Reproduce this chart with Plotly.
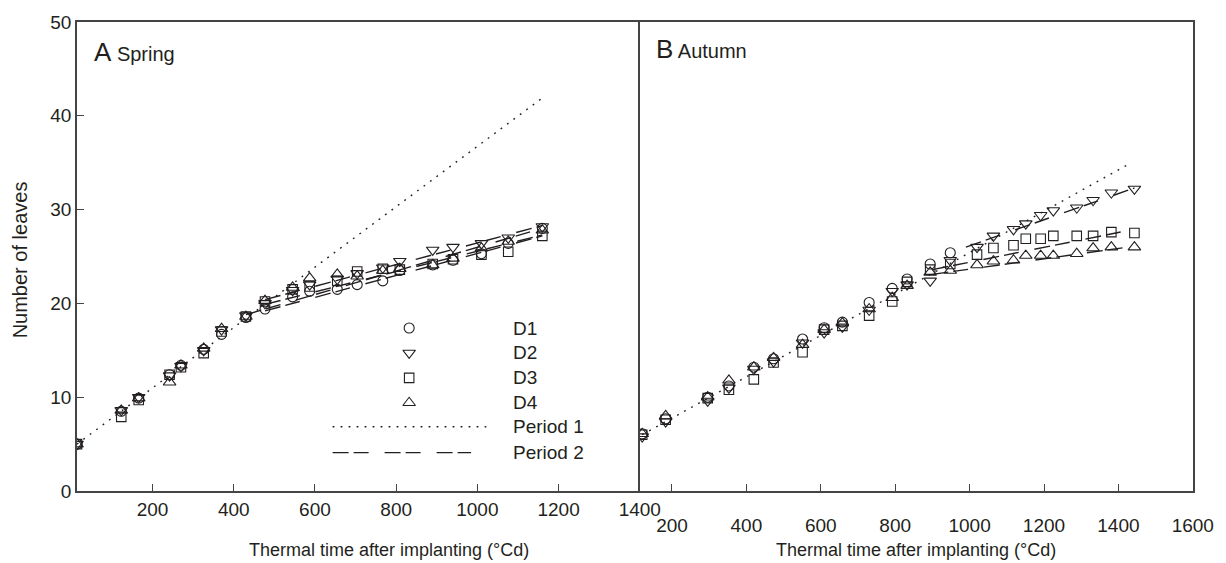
import plotly.graph_objects as go

# ---------------- data ----------------
# Spring (panel A)
spring_x = [14, 123, 166, 242, 270, 326, 370, 430, 477, 545, 587, 655, 704, 767, 809, 890, 940, 1010, 1076, 1160]
spring_d1 = [5.0, 8.5, 9.9, 12.4, 13.4, 15.1, 16.7, 18.5, 19.4, 20.7, 21.3, 21.5, 22.0, 22.4, 23.5, 24.1, 24.6, 25.3, 26.4, 28.0]
spring_d2 = [5.0, 8.6, 10.0, 12.3, 13.3, 15.0, 17.2, 18.7, 20.0, 21.4, 22.0, 22.6, 23.2, 23.8, 24.5, 25.7, 26.0, 26.4, 27.0, 28.2]
spring_d3 = [5.0, 7.9, 9.7, 12.4, 13.2, 14.7, 17.0, 18.6, 20.2, 21.5, 21.8, 22.4, 23.4, 23.7, 23.6, 24.2, 24.7, 25.2, 25.5, 27.2]
spring_d4 = [5.0, 8.6, 9.9, 11.6, 13.4, 15.2, 17.3, 18.6, 20.3, 21.7, 22.7, 23.1, 22.9, 23.5, 23.7, 24.1, 24.8, 25.9, 26.6, 27.8]

# Autumn (panel B)
autumn_x = [120, 183, 296, 353, 420, 473, 551, 609, 658, 730, 792, 832, 894, 948]
autumn_d1 = [6.1, 7.7, 10.0, 11.2, 13.2, 14.1, 16.2, 17.4, 18.0, 20.1, 21.6, 22.6, 24.2, 25.4]
autumn_x2 = [120, 183, 296, 353, 420, 473, 551, 609, 658, 730, 792, 832, 894, 948, 1020, 1064, 1118, 1151, 1191, 1225, 1288, 1332, 1381, 1443]
autumn_d2 = [5.8, 7.4, 9.6, 11.0, 13.0, 13.8, 15.8, 16.9, 17.5, 19.3, 21.3, 22.0, 22.4, 24.6, 26.0, 27.2, 27.9, 28.5, 29.4, 29.9, 30.2, 31.0, 31.8, 32.2]
autumn_d3 = [6.0, 7.6, 9.9, 10.8, 11.9, 13.7, 14.8, 17.2, 17.6, 18.7, 20.2, 22.3, 23.6, 24.2, 25.2, 25.9, 26.2, 26.9, 26.9, 27.2, 27.2, 27.2, 27.6, 27.5]
autumn_d4 = [6.1, 8.0, 10.0, 11.8, 13.2, 14.2, 15.6, 17.2, 17.9, 19.4, 20.6, 21.9, 23.3, 23.5, 24.1, 24.5, 24.6, 25.1, 25.1, 25.1, 25.3, 25.9, 26.0, 26.0]

# fitted lines (start/end)
spring_p1_x = [14, 1160]
spring_p1_y = [5.0, 41.9]
spring_p2_x = {"D1": [477, 1160], "D2": [477, 1160], "D3": [477, 1160], "D4": [430, 1160]}
spring_p2_y = {"D1": [19.2, 27.2], "D2": [20.4, 28.3], "D3": [19.9, 27.3], "D4": [18.8, 28.0]}

autumn_p1_x = [120, 1430]
autumn_p1_y = [6.0, 34.9]
autumn_p2_x = {"D2": [990, 1443], "D3": [900, 1443], "D4": [900, 1443]}
autumn_p2_y = {"D2": [26.0, 32.3], "D3": [23.6, 27.9], "D4": [23.1, 26.1]}

legend_labels = ["D1", "D2", "D3", "D4", "Period 1", "Period 2"]

# ---------------- style ----------------
INK = "#231f20"
AXC = "#444444"
FONT = "Liberation Sans, Arial, Helvetica, sans-serif"
SYMS = {"D1": ("circle-open", 10), "D2": ("triangle-down-open", 11),
        "D3": ("square-open", 9.5), "D4": ("triangle-up-open", 11)}
DOT = "1.8px,6.2px"
DASH = "16px,5px,15px,16px"

fig = go.Figure()

def add_line(xs, ys, dash, xa, ya):
    fig.add_trace(go.Scatter(x=xs, y=ys, mode="lines", xaxis=xa, yaxis=ya,
                             line=dict(color=INK, width=1.4, dash=dash),
                             showlegend=False, hoverinfo="skip"))

def add_pts(xs, ys, key, xa, ya):
    sym, sz = SYMS[key]
    fig.add_trace(go.Scatter(x=xs, y=ys, mode="markers", xaxis=xa, yaxis=ya,
                             marker=dict(symbol=sym, size=sz, color=INK,
                                         line=dict(color=INK, width=1.1)),
                             showlegend=False, name=key))

# Panel A
add_line(spring_p1_x, spring_p1_y, DOT, "x", "y")
for k in spring_p2_x:
    add_line(spring_p2_x[k], spring_p2_y[k], DASH, "x", "y")
for k, ys in zip(["D1", "D2", "D3", "D4"], [spring_d1, spring_d2, spring_d3, spring_d4]):
    add_pts(spring_x, ys, k, "x", "y")

# Panel B
add_line(autumn_p1_x, autumn_p1_y, DOT, "x2", "y2")
for k in autumn_p2_x:
    add_line(autumn_p2_x[k], autumn_p2_y[k], DASH, "x2", "y2")
add_pts(autumn_x, autumn_d1, "D1", "x2", "y2")
for k, ys in zip(["D2", "D3", "D4"], [autumn_d2, autumn_d3, autumn_d4]):
    add_pts(autumn_x2, ys, k, "x2", "y2")

# Legend built on a hidden axis pair over panel A
leg_mx = 0.590
leg_rows = [0.3475, 0.2944, 0.2412, 0.1881, 0.1371, 0.0818]
for i, k in enumerate(["D1", "D2", "D3", "D4"]):
    sym, sz = SYMS[k]
    fig.add_trace(go.Scatter(x=[leg_mx], y=[leg_rows[i]], mode="markers", xaxis="x3", yaxis="y3",
                             marker=dict(symbol=sym, size=sz, color=INK, line=dict(color=INK, width=1.1)),
                             showlegend=False, hoverinfo="skip"))
fig.add_trace(go.Scatter(x=[0.454, 0.727], y=[leg_rows[4]] * 2, mode="lines", xaxis="x3", yaxis="y3",
                         line=dict(color=INK, width=1.4, dash=DOT), showlegend=False, hoverinfo="skip"))
fig.add_trace(go.Scatter(x=[0.454, 0.700], y=[leg_rows[5]] * 2, mode="lines", xaxis="x3", yaxis="y3",
                         line=dict(color=INK, width=1.4, dash=DASH), showlegend=False, hoverinfo="skip"))

annotations = []
for i, lab in enumerate(legend_labels):
    annotations.append(dict(x=0.771, y=leg_rows[i], xref="x3", yref="y3", text=lab, showarrow=False,
                            xanchor="left", yanchor="middle", font=dict(size=19, color=INK, family=FONT)))

annotations += [
    dict(x=0.027, y=0.937, xref="x domain", yref="y domain", showarrow=False, xanchor="left", yanchor="middle",
         text="<span style='font-size:26px'>A</span> Spring", font=dict(size=20, color=INK, family=FONT)),
    dict(x=0.025, y=0.942, xref="x2 domain", yref="y2 domain", showarrow=False, xanchor="left", yanchor="middle",
         text="<span style='font-size:26px'>B</span> Autumn", font=dict(size=20, color=INK, family=FONT)),
    dict(x=(390 - 77) / 1118, y=-0.126, xref="paper", yref="paper", showarrow=False, xanchor="center",
         yanchor="middle", text="Thermal time after implanting (°Cd)", font=dict(size=18, color=INK, family=FONT)),
    dict(x=(918 - 77) / 1118, y=-0.126, xref="paper", yref="paper", showarrow=False, xanchor="center",
         yanchor="middle", text="Thermal time after implanting (°Cd)", font=dict(size=18, color=INK, family=FONT)),
    dict(x=(20 - 77) / 1118, y=0.492, xref="paper", yref="paper", showarrow=False, xanchor="center",
         yanchor="middle", textangle=-90, text="Number of leaves", font=dict(size=20, color=INK, family=FONT)),
]

split = 564 / 1118
axis_common = dict(showline=True, linecolor=AXC, linewidth=1.5, showgrid=False, zeroline=False,
                   ticks="inside", ticklen=7, tickwidth=1.2, tickcolor=AXC,
                   tickfont=dict(size=19, color=INK, family=FONT))

fig.update_layout(
    width=1226, height=563,
    margin=dict(l=77, r=31, t=21, b=72),
    paper_bgcolor="white", plot_bgcolor="white",
    showlegend=False,
    annotations=annotations,
    xaxis=dict(domain=[0, split], range=[14, 1400.5], tick0=0, dtick=200, anchor="y", mirror=True, **axis_common),
    yaxis=dict(domain=[0, 1], range=[0, 50], tick0=0, dtick=10, anchor="x", mirror=False, **axis_common),
    xaxis2=dict(domain=[split, 1], range=[114, 1600.5], tick0=0, dtick=200, anchor="y2", mirror=True,
                ticklabelstandoff=16, **axis_common),
    yaxis2=dict(domain=[0, 1], range=[0, 50], anchor="x2", showline=True, linecolor=AXC, linewidth=1.5,
                mirror=True, showgrid=False, zeroline=False, showticklabels=False, ticks=""),
    xaxis3=dict(domain=[0, split], range=[0, 1], visible=False, anchor="y3", overlaying="x"),
    yaxis3=dict(domain=[0, 1], range=[0, 1], visible=False, anchor="x3", overlaying="y"),
)

fig.write_html("out.html")
